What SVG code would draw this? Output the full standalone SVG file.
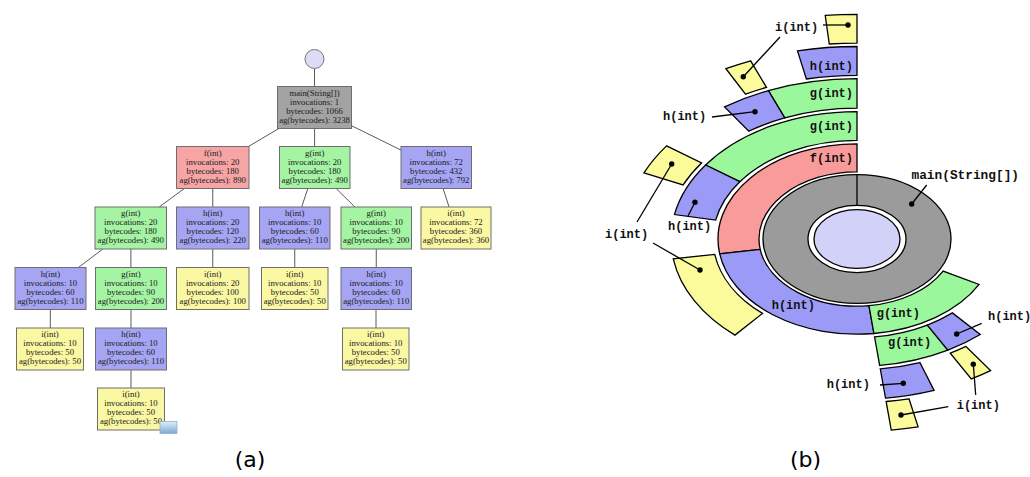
<svg xmlns="http://www.w3.org/2000/svg" width="1030" height="477" viewBox="0 0 1030 477">
<defs>
<style>
.box{stroke:#6e6e6e;stroke-width:1}
.gry{fill:#a3a3a3}.red{fill:#f6a4a4}.grn{fill:#a4f4a4}.blu{fill:#a5a5f4}.yel{fill:#fbf8a4}
.t{font-family:"Liberation Serif","Times New Roman",serif;font-size:8.7px;fill:#1a1a1a;text-anchor:middle}
.e{stroke:#5a5a5a;stroke-width:1;fill:none}
.seg{stroke:#000;stroke-width:1.3;vector-effect:non-scaling-stroke}
.rred{fill:#f99b9b}.rgrn{fill:#9bf79b}.rblu{fill:#9b9bf7}.ryel{fill:#fbfb9c}.rgry{fill:#9b9b9b}.rlt{fill:#d2d2f8}
.m{font-family:"Liberation Mono","Courier New",monospace;font-weight:bold;font-size:12px;fill:#111}
.ld{stroke:#000;stroke-width:1.3;fill:none}
.dot{fill:#000}
.cap{font-family:"DejaVu Sans","Liberation Sans",sans-serif;font-size:22px;fill:#000;text-anchor:middle}
</style>
<linearGradient id="ic" x1="0" y1="0" x2="0" y2="1"><stop offset="0" stop-color="#dfeefa"/><stop offset="1" stop-color="#7fa8d4"/></linearGradient>
</defs>
<rect width="1030" height="477" fill="#fff"/>

<!-- (a) tree -->
<g id="tree-connectors">
<line class="e" x1="314.5" y1="68.5" x2="314.5" y2="86.5"/>
<line class="e" x1="278.9" y1="128.5" x2="248.4" y2="146.5"/>
<line class="e" x1="314.6" y1="128.5" x2="314.6" y2="146.5"/>
<line class="e" x1="351.5" y1="125.7" x2="401" y2="150.1"/>
<line class="e" x1="184.3" y1="188.5" x2="159.2" y2="207"/>
<line class="e" x1="212.75" y1="188.5" x2="212.75" y2="207"/>
<line class="e" x1="307.8" y1="188.5" x2="301.7" y2="207"/>
<line class="e" x1="336.1" y1="188.5" x2="354.9" y2="207"/>
<line class="e" x1="443.1" y1="188.5" x2="449.1" y2="207"/>
<line class="e" x1="102.9" y1="249" x2="78.4" y2="267.5"/>
<line class="e" x1="130.9" y1="249" x2="130.9" y2="267.5"/>
<line class="e" x1="212.75" y1="249" x2="212.75" y2="267.5"/>
<line class="e" x1="294.75" y1="249" x2="294.75" y2="267.5"/>
<line class="e" x1="376.25" y1="249" x2="376.25" y2="267.5"/>
<line class="e" x1="50.3" y1="309.5" x2="50.3" y2="328"/>
<line class="e" x1="131" y1="309.5" x2="131" y2="328"/>
<line class="e" x1="376" y1="309.5" x2="376" y2="328"/>
<line class="e" x1="131" y1="370" x2="131" y2="388"/>
</g>

<g id="n-root"><circle cx="314.5" cy="59" r="9.5" fill="#dcdcf8" stroke="#777" stroke-width="1"/></g>

<g id="n-main"><rect class="box gry" x="277.5" y="86.5" width="74" height="42"/>
<text class="t" x="314.5" y="95.5">main(String[])<tspan x="314.5" dy="9.1">invocations: 1</tspan><tspan x="314.5" dy="9.1">bytecodes: 1066</tspan><tspan x="314.5" dy="9.1">ag(bytecodes): 3238</tspan></text></g>

<g id="n-f"><rect class="box red" x="176.5" y="146.5" width="72.5" height="42"/>
<text class="t" x="212.75" y="155.5">f(int)<tspan x="212.75" dy="9.1">invocations: 20</tspan><tspan x="212.75" dy="9.1">bytecodes: 180</tspan><tspan x="212.75" dy="9.1">ag(bytecodes): 890</tspan></text></g>

<g id="n-g1"><rect class="box grn" x="279.5" y="146.5" width="70.5" height="42"/>
<text class="t" x="314.75" y="155.5">g(int)<tspan x="314.75" dy="9.1">invocations: 20</tspan><tspan x="314.75" dy="9.1">bytecodes: 180</tspan><tspan x="314.75" dy="9.1">ag(bytecodes): 490</tspan></text></g>

<g id="n-h1"><rect class="box blu" x="401" y="146.5" width="70.5" height="42"/>
<text class="t" x="436.25" y="155.5">h(int)<tspan x="436.25" dy="9.1">invocations: 72</tspan><tspan x="436.25" dy="9.1">bytecodes: 432</tspan><tspan x="436.25" dy="9.1">ag(bytecodes): 792</tspan></text></g>

<g id="n-g2a"><rect class="box grn" x="95" y="207" width="71.5" height="42"/>
<text class="t" x="130.75" y="216">g(int)<tspan x="130.75" dy="9.1">invocations: 20</tspan><tspan x="130.75" dy="9.1">bytecodes: 180</tspan><tspan x="130.75" dy="9.1">ag(bytecodes): 490</tspan></text></g>

<g id="n-h2a"><rect class="box blu" x="176.5" y="207" width="72.5" height="42"/>
<text class="t" x="212.75" y="216">h(int)<tspan x="212.75" dy="9.1">invocations: 20</tspan><tspan x="212.75" dy="9.1">bytecodes: 120</tspan><tspan x="212.75" dy="9.1">ag(bytecodes): 220</tspan></text></g>

<g id="n-h2b"><rect class="box blu" x="259.5" y="207" width="70.5" height="42"/>
<text class="t" x="294.75" y="216">h(int)<tspan x="294.75" dy="9.1">invocations: 10</tspan><tspan x="294.75" dy="9.1">bytecodes: 60</tspan><tspan x="294.75" dy="9.1">ag(bytecodes): 110</tspan></text></g>

<g id="n-g2b"><rect class="box grn" x="341" y="207" width="70.5" height="42"/>
<text class="t" x="376.25" y="216">g(int)<tspan x="376.25" dy="9.1">invocations: 10</tspan><tspan x="376.25" dy="9.1">bytecodes: 90</tspan><tspan x="376.25" dy="9.1">ag(bytecodes): 200</tspan></text></g>

<g id="n-i2"><rect class="box yel" x="421" y="207" width="70" height="42"/>
<text class="t" x="456" y="216">i(int)<tspan x="456" dy="9.1">invocations: 72</tspan><tspan x="456" dy="9.1">bytecodes: 360</tspan><tspan x="456" dy="9.1">ag(bytecodes): 360</tspan></text></g>

<g id="n-h3a"><rect class="box blu" x="15" y="267.5" width="71" height="42"/>
<text class="t" x="50.5" y="276.5">h(int)<tspan x="50.5" dy="9.1">invocations: 10</tspan><tspan x="50.5" dy="9.1">bytecodes: 60</tspan><tspan x="50.5" dy="9.1">ag(bytecodes): 110</tspan></text></g>

<g id="n-g3a"><rect class="box grn" x="95.5" y="267.5" width="71" height="42"/>
<text class="t" x="131" y="276.5">g(int)<tspan x="131" dy="9.1">invocations: 10</tspan><tspan x="131" dy="9.1">bytecodes: 90</tspan><tspan x="131" dy="9.1">ag(bytecodes): 200</tspan></text></g>

<g id="n-i3a"><rect class="box yel" x="176.5" y="267.5" width="72.5" height="42"/>
<text class="t" x="212.75" y="276.5">i(int)<tspan x="212.75" dy="9.1">invocations: 20</tspan><tspan x="212.75" dy="9.1">bytecodes: 100</tspan><tspan x="212.75" dy="9.1">ag(bytecodes): 100</tspan></text></g>

<g id="n-i3b"><rect class="box yel" x="261.5" y="267.5" width="66.5" height="42"/>
<text class="t" x="294.75" y="276.5">i(int)<tspan x="294.75" dy="9.1">invocations: 10</tspan><tspan x="294.75" dy="9.1">bytecodes: 50</tspan><tspan x="294.75" dy="9.1">ag(bytecodes): 50</tspan></text></g>

<g id="n-h3b"><rect class="box blu" x="341" y="267.5" width="70.5" height="42"/>
<text class="t" x="376.25" y="276.5">h(int)<tspan x="376.25" dy="9.1">invocations: 10</tspan><tspan x="376.25" dy="9.1">bytecodes: 60</tspan><tspan x="376.25" dy="9.1">ag(bytecodes): 110</tspan></text></g>

<g id="n-i4a"><rect class="box yel" x="16.5" y="328" width="67" height="42"/>
<text class="t" x="50" y="337">i(int)<tspan x="50" dy="9.1">invocations: 10</tspan><tspan x="50" dy="9.1">bytecodes: 50</tspan><tspan x="50" dy="9.1">ag(bytecodes): 50</tspan></text></g>

<g id="n-h4a"><rect class="box blu" x="95.5" y="328" width="71" height="42"/>
<text class="t" x="131" y="337">h(int)<tspan x="131" dy="9.1">invocations: 10</tspan><tspan x="131" dy="9.1">bytecodes: 60</tspan><tspan x="131" dy="9.1">ag(bytecodes): 110</tspan></text></g>

<g id="n-i4b"><rect class="box yel" x="342.5" y="328" width="66.5" height="42"/>
<text class="t" x="375.75" y="337">i(int)<tspan x="375.75" dy="9.1">invocations: 10</tspan><tspan x="375.75" dy="9.1">bytecodes: 50</tspan><tspan x="375.75" dy="9.1">ag(bytecodes): 50</tspan></text></g>

<g id="n-i5"><rect class="box yel" x="97.5" y="388" width="67" height="42"/>
<text class="t" x="131" y="397">i(int)<tspan x="131" dy="9.1">invocations: 10</tspan><tspan x="131" dy="9.1">bytecodes: 50</tspan><tspan x="131" dy="9.1">ag(bytecodes): 50</tspan></text>
<rect x="160" y="421.5" width="17" height="12" fill="url(#ic)" stroke="#8fb0d0" stroke-width="0.8"/></g>

<text class="cap" x="250" y="467">(a)</text>

<!-- (b) radial -->
<g id="radial" transform="translate(857 239) scale(1 0.685)">
<g id="r-core"><circle class="seg rlt" cx="0" cy="0" r="43"/></g>
<g id="r-main"><path class="seg rgry" fill-rule="evenodd" d="M0,-94A94,94 0 1 0 0,94A94,94 0 1 0 0,-94ZM0,-49A49,49 0 1 0 0,49A49,49 0 1 0 0,-49Z"/><path class="seg" d="M0,-94L0,-49" fill="none"/></g>
<g id="r-f"><path class="seg rred" d="M0,-139A139,139 0 0 0 -137.3,21.63L-96.8,15.25A98,98 0 0 1 0,-98Z"/></g>
<g id="r-h1"><path class="seg rblu" d="M-137.3,21.63A139,139 0 0 0 16.94,137.96L11.95,97.27A98,98 0 0 1 -96.8,15.25Z"/></g>
<g id="r-g1"><path class="seg rgrn" d="M16.94,137.96A139,139 0 0 0 122.14,66.37L86.11,46.8A98,98 0 0 1 11.95,97.27Z"/></g>
<g id="r-f-g"><path class="seg rgrn" d="M0,-186A186,186 0 0 0 -151.39,-108.07L-117.2,-83.66A144,144 0 0 1 0,-144Z"/></g>
<g id="r-f-h"><path class="seg rblu" d="M-151.39,-108.07A186,186 0 0 0 -182.56,-35.67L-141.34,-27.62A144,144 0 0 1 -117.2,-83.66Z"/></g>
<g id="r-h-i"><path class="seg ryel" d="M-183.73,28.94A186,186 0 0 0 -122.07,140.34L-94.51,108.65A144,144 0 0 1 -142.24,22.41Z"/></g>
<g id="r-g-g"><path class="seg rgrn" d="M22.67,184.61A186,186 0 0 0 90.86,162.3L70.34,125.65A144,144 0 0 1 17.55,142.92Z"/></g>
<g id="r-g-h"><path class="seg rblu" d="M90.86,162.3A186,186 0 0 0 123.19,139.35L95.37,107.88A144,144 0 0 1 70.34,125.65Z"/></g>
<g id="r-f-g-g"><path class="seg rgrn" d="M0,-234A234,234 0 0 0 -88.57,-216.59L-72.29,-176.79A191,191 0 0 1 0,-191Z"/></g>
<g id="r-f-g-h"><path class="seg rblu" d="M-88.57,-216.59A234,234 0 0 0 -132.44,-192.91L-108.11,-157.46A191,191 0 0 1 -72.29,-176.79Z"/></g>
<g id="r-f-h-i"><path class="seg ryel" d="M-190.45,-135.95A234,234 0 0 0 -213.08,-96.67L-173.92,-78.9A191,191 0 0 1 -155.45,-110.97Z"/></g>
<g id="r-g-g-h"><path class="seg rblu" d="M28.52,232.25A234,234 0 0 0 77.06,220.94L62.9,180.34A191,191 0 0 1 23.28,189.57Z"/></g>
<g id="r-g-h-i"><path class="seg ryel" d="M114.31,204.19A234,234 0 0 0 133.54,192.14L109,156.83A191,191 0 0 1 93.3,166.67Z"/></g>
<g id="r-f-g-g-h"><path class="seg rblu" d="M0,-281A281,281 0 0 0 -59.52,-274.62L-50.62,-233.57A239,239 0 0 1 0,-239Z"/></g>
<g id="r-f-g-h-i"><path class="seg ryel" d="M-106.36,-260.09A281,281 0 0 0 -131.06,-248.57L-111.47,-211.42A239,239 0 0 1 -90.46,-221.22Z"/></g>
<g id="r-g-g-h-i"><path class="seg ryel" d="M34.25,278.89A281,281 0 0 0 61.12,274.28L51.98,233.29A239,239 0 0 1 29.13,237.21Z"/></g>
<g id="r-f-g-g-h-i"><path class="seg ryel" d="M0,-328A328,328 0 0 0 -31.78,-326.46L-27.71,-284.66A286,286 0 0 1 0,-286Z"/></g>
</g>

<g id="radial-labels">
<text class="m" x="853" y="162" text-anchor="end">f(int)</text>
<text class="m" x="853" y="130" text-anchor="end">g(int)</text>
<text class="m" x="853" y="97" text-anchor="end">g(int)</text>
<text class="m" x="853" y="70" text-anchor="end">h(int)</text>
<text class="m" x="775" y="30.5">i(int)</text>
<text class="m" x="663" y="119.5">h(int)</text>
<text class="m" x="668" y="229.5">h(int)</text>
<text class="m" x="605" y="237.5">i(int)</text>
<text class="m" x="911.5" y="178.5" style="font-size:12.8px">main(String[])</text>
<text class="m" x="771.7" y="309">h(int)</text>
<text class="m" x="876.7" y="317">g(int)</text>
<text class="m" x="888" y="346">g(int)</text>
<text class="m" x="988" y="319.5">h(int)</text>
<text class="m" x="956.7" y="409">i(int)</text>
<text class="m" x="826.7" y="388">h(int)</text>
</g>

<g id="leaders">
<path class="ld" d="M823,25L848,25"/>
<path class="ld" d="M780,37L743.3,76.7"/>
<path class="ld" d="M712,117L755,111.7"/>
<path class="ld" d="M688,216L695,202.3"/>
<path class="ld" d="M637,222L671.7,164"/>
<path class="ld" d="M653,243L700,270"/>
<path class="ld" d="M926.7,185L911.7,204"/>
<path class="ld" d="M981.7,323.3L956.7,334"/>
<path class="ld" d="M975.7,395L973.3,364.3"/>
<path class="ld" d="M948.3,406.7L901,415"/>
<path class="ld" d="M880,385L903.3,383.3"/>
<circle class="dot" cx="848" cy="25" r="2.7"/>
<circle class="dot" cx="743.3" cy="76.7" r="2.7"/>
<circle class="dot" cx="755" cy="111.7" r="2.7"/>
<circle class="dot" cx="695" cy="202.3" r="2.7"/>
<circle class="dot" cx="671.7" cy="164" r="2.7"/>
<circle class="dot" cx="700" cy="270" r="2.7"/>
<circle class="dot" cx="911.7" cy="204" r="2.7"/>
<circle class="dot" cx="956.7" cy="334" r="2.7"/>
<circle class="dot" cx="973.3" cy="364.3" r="2.7"/>
<circle class="dot" cx="901" cy="415" r="2.7"/>
<circle class="dot" cx="903.3" cy="383.3" r="2.7"/>
</g>

<text class="cap" x="805.5" y="467">(b)</text>
</svg>
